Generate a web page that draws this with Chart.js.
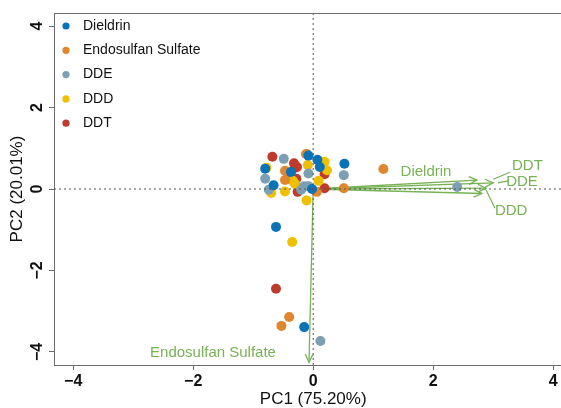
<!DOCTYPE html>
<html>
<head>
<meta charset="utf-8">
<script src="https://cdn.jsdelivr.net/npm/chart.js@4.4.1/dist/chart.umd.min.js"></script>
<style>
  html, body { margin: 0; padding: 0; background: #fff; }
  #wrap { width: 561px; height: 408px; position: relative; }
</style>
</head>
<body>
<div id="wrap"><canvas id="pcaChart"></canvas></div>
<script>
// scores (PC1, PC2) per compound
const seriesNames = ['Dieldrin', 'Endosulfan Sulfate', 'DDE', 'DDD', 'DDT'];
const seriesColors = ['#0a72b6', '#df862e', '#7c9fb3', '#efc000', '#bf3b2b'];

const dieldrinX = [-0.80, -0.37, -0.66, -0.08, 0.07, 0.52, 0.11, -0.02, -0.62, -0.15];
const dieldrinY = [0.50, 0.42, 0.09, 0.82, 0.72, 0.62, 0.54, 0.00, -0.93, -3.39];

const endosulfanX = [1.17, -0.47, -0.47, 0.06, 0.51, -0.40, -0.53, -0.12];
const endosulfanY = [0.49, 0.45, 0.22, -0.07, 0.02, -3.14, -3.36, 0.86];

const ddeX = [2.40, -0.49, -0.10, -0.80, -0.74, -0.08, 0.51, -0.15, -0.08, 0.12, -0.20];
const ddeY = [0.05, 0.74, 0.85, 0.25, -0.02, 0.38, 0.34, 0.07, 0.07, -3.73, -0.02];

const dddX = [-0.78, -0.34, -0.30, -0.70, -0.47, -0.09, 0.19, 0.23, 0.09, -0.11, -0.35];
const dddY = [0.52, 0.20, 0.12, -0.10, -0.06, 0.59, 0.67, 0.46, 0.20, -0.28, -1.30];

const ddtX = [-0.68, -0.32, -0.30, -0.27, -0.42, -0.28, -0.26, 0.19, 0.19, -0.62];
const ddtY = [0.79, 0.63, 0.52, 0.54, 0.25, 0.25, -0.07, 0.36, 0.02, -2.45];

// loading arrows
const loadingNames = ['Dieldrin', 'Endosulfan Sulfate', 'DDE', 'DDD', 'DDT'];
const loadingX = [2.73, -0.07, 2.88, 2.81, 3.00];
const loadingY = [0.22, -4.25, 0.02, -0.11, 0.15];
const labelX = [1.88, -1.67, 3.48, 3.30, 3.57];
const labelY = [0.42, -4.02, 0.17, -0.54, 0.56];
// leader lines from tip to label (DDE, DDD, DDT)
const leaderFromX = [3.08, 2.88, 3.00];
const leaderFromY = [0.15, -0.02, 0.24];
const leaderToX = [3.25, 3.03, 3.28];
const leaderToY = [0.20, -0.47, 0.41];

const xTicks = [-4, -2, 0, 2, 4];
const yTicks = [-4, -2, 0, 2, 4];
const xMin = -4.32, xMax = 4.13;
const yMin = -4.32, yMax = 4.32;

const green = '#77b255';
const axisGrey = '#6b6b6b';
const fontFamily = '"Liberation Sans", Arial, sans-serif';

function toPoints(xs, ys) {
    return xs.map((x, i) => ({ x: x, y: ys[i] }));
}

function fmt(v) {
    return v < 0 ? '\u2212' + Math.abs(v) : String(v);
}

const scoreSets = [
    toPoints(dieldrinX, dieldrinY),
    toPoints(endosulfanX, endosulfanY),
    toPoints(ddeX, ddeY),
    toPoints(dddX, dddY),
    toPoints(ddtX, ddtY)
];

const datasets = [];

// dotted reference lines
datasets.push({
    data: [{ x: xMin, y: 0 }, { x: xMax, y: 0 }],
    showLine: true, pointRadius: 0, borderColor: '#555', borderWidth: 1, borderDash: [2, 3]
});
datasets.push({
    data: [{ x: 0, y: yMin }, { x: 0, y: yMax }],
    showLine: true, pointRadius: 0, borderColor: '#555', borderWidth: 1, borderDash: [2, 3]
});

scoreSets.forEach((pts, i) => {
    datasets.push({
        label: seriesNames[i],
        data: pts,
        pointRadius: 5,
        pointBackgroundColor: seriesColors[i],
        pointBorderWidth: 0
    });
});

loadingNames.forEach((name, i) => {
    datasets.push({
        data: [{ x: 0, y: 0 }, { x: loadingX[i], y: loadingY[i] }],
        showLine: true, pointRadius: 0, borderColor: green, borderWidth: 1.3,
        isArrow: true
    });
});

leaderFromX.forEach((x, i) => {
    datasets.push({
        data: [{ x: x, y: leaderFromY[i] }, { x: leaderToX[i], y: leaderToY[i] }],
        showLine: true, pointRadius: 0, borderColor: green, borderWidth: 1.2
    });
});

const biplotDecor = {
    id: 'biplotDecor',
    afterDraw(chart) {
        const ctx = chart.ctx;
        const area = chart.chartArea;
        const xs = chart.scales.x;
        const ys = chart.scales.y;

        ctx.save();
        // top border of box
        ctx.strokeStyle = axisGrey;
        ctx.lineWidth = 1;
        ctx.beginPath();
        ctx.moveTo(area.left, area.top + 0.5);
        ctx.lineTo(area.right, area.top + 0.5);
        ctx.stroke();

        // arrow heads
        chart.data.datasets.forEach((ds, di) => {
            if (!ds.isArrow) return;
            const meta = chart.getDatasetMeta(di);
            const p0 = meta.data[0], p1 = meta.data[1];
            const ang = Math.atan2(p1.y - p0.y, p1.x - p0.x);
            const len = 9, spread = Math.PI / 7;
            ctx.strokeStyle = green;
            ctx.lineWidth = 1.3;
            ctx.beginPath();
            ctx.moveTo(p1.x - len * Math.cos(ang - spread), p1.y - len * Math.sin(ang - spread));
            ctx.lineTo(p1.x, p1.y);
            ctx.lineTo(p1.x - len * Math.cos(ang + spread), p1.y - len * Math.sin(ang + spread));
            ctx.stroke();
        });

        // loading labels
        ctx.fillStyle = green;
        ctx.font = '15px ' + fontFamily;
        ctx.textAlign = 'center';
        ctx.textBaseline = 'middle';
        loadingNames.forEach((name, i) => {
            ctx.fillText(name, xs.getPixelForValue(labelX[i]), ys.getPixelForValue(labelY[i]));
        });

        // y tick labels, rotated like base R
        ctx.fillStyle = '#111';
        ctx.font = 'bold 16px ' + fontFamily;
        yTicks.forEach(v => {
            const py = ys.getPixelForValue(v);
            ctx.save();
            ctx.translate(38, py);
            ctx.rotate(-Math.PI / 2);
            ctx.fillText(fmt(v), 0, 0);
            ctx.restore();
        });

        // axis titles
        ctx.font = '17px ' + fontFamily;
        ctx.fillText('PC1 (75.20%)', xs.getPixelForValue(0), 399);
        ctx.save();
        ctx.translate(17, ys.getPixelForValue(0));
        ctx.rotate(-Math.PI / 2);
        ctx.fillText('PC2 (20.01%)', 0, 0);
        ctx.restore();

        // legend
        ctx.font = '14px ' + fontFamily;
        ctx.textAlign = 'left';
        seriesNames.forEach((name, i) => {
            const ly = 26 + i * 24.3;
            ctx.fillStyle = seriesColors[i];
            ctx.beginPath();
            ctx.arc(66, ly, 3.6, 0, Math.PI * 2);
            ctx.fill();
            ctx.fillStyle = '#111';
            ctx.fillText(name, 83, ly);
        });
        ctx.restore();
    }
};

new Chart(document.getElementById('pcaChart'), {
    type: 'scatter',
    data: { datasets: datasets },
    options: {
        responsive: true,
        maintainAspectRatio: false,
        animation: false,
        layout: { autoPadding: false, padding: { left: 0, right: 0, top: 13, bottom: 0 } },
        plugins: {
            legend: { display: false },
            tooltip: { enabled: false }
        },
        scales: {
            x: {
                type: 'linear',
                min: xMin,
                max: xMax,
                afterBuildTicks: s => { s.ticks = xTicks.map(v => ({ value: v })); },
                afterFit: s => { s.height = 43; s.paddingLeft = 0; s.paddingRight = 0; },
                border: { display: true, color: axisGrey, width: 1 },
                grid: { drawOnChartArea: false, drawTicks: true, tickLength: 5, color: axisGrey },
                ticks: {
                    color: '#111',
                    padding: 2,
                    maxRotation: 0,
                    font: { family: fontFamily, size: 16, weight: 'bold' },
                    callback: v => fmt(v)
                }
            },
            y: {
                type: 'linear',
                min: yMin,
                max: yMax,
                afterBuildTicks: s => { s.ticks = yTicks.map(v => ({ value: v })); },
                afterFit: s => { s.width = 54; s.paddingTop = 0; s.paddingBottom = 0; },
                border: { display: true, color: axisGrey, width: 1 },
                grid: { drawOnChartArea: false, drawTicks: true, tickLength: 5, color: axisGrey },
                ticks: { display: false }
            }
        }
    },
    plugins: [biplotDecor]
});
</script>
</body>
</html>
